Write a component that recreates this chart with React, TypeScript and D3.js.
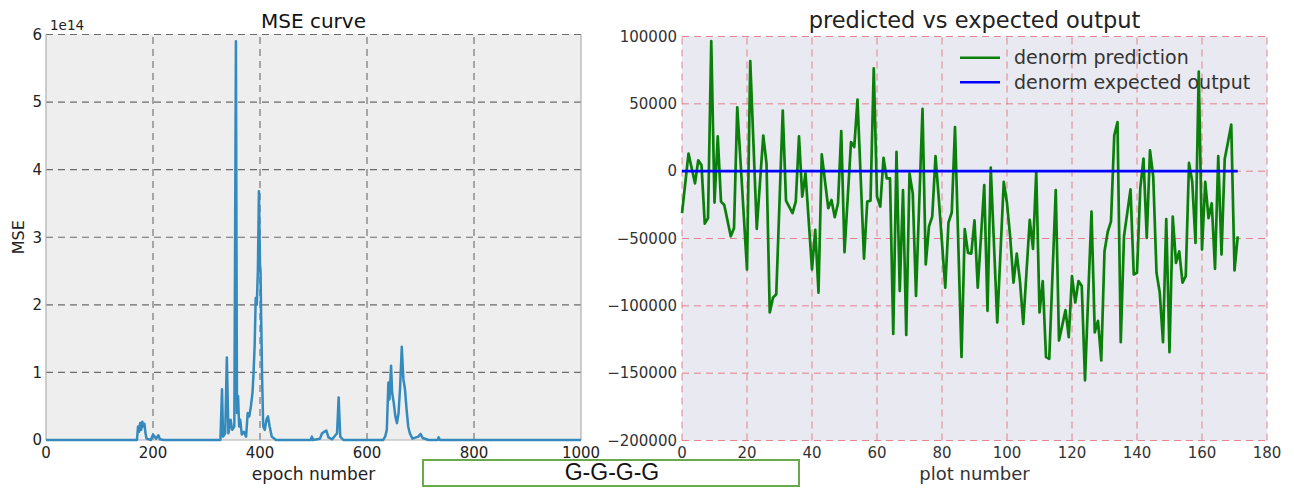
import React from "react";
import * as d3 from "d3";

const W = 1294;
const H = 491;

// Training loss: epochs where the MSE curve changes, and the MSE there (units of 1e14)
const mseEpochs = [
  0, 170, 172, 174, 176, 178, 180, 182, 184, 186, 188, 196, 200, 203, 206, 210, 213, 220,
  326, 329, 331, 335, 338, 341, 345, 348, 352, 355, 357, 359, 361, 363, 366, 370, 374,
  377, 380, 383, 386, 388, 390, 392, 394, 396, 398, 400, 401, 402, 404, 406, 409, 412,
  415, 418, 422, 430, 495, 497, 499, 512, 516, 520, 524, 528, 535, 544, 547, 550, 556,
  630, 634, 637, 640, 642, 645, 647, 650, 653, 656, 659, 662, 665, 668, 671, 674, 677,
  680, 685, 696, 700, 704, 715, 732, 734, 736, 1000,
];
const mseValues = [
  0, 0, 0.2, 0.12, 0.25, 0.15, 0.27, 0.2, 0.24, 0.1, 0.02, 0, 0.08, 0.05, 0.02, 0.07, 0.01, 0,
  0, 0.75, 0.05, 0.1, 1.22, 0.1, 0.3, 0.15, 0.2, 5.9, 0.4, 0.65, 0.2, 0.3, 0.08, 0.12, 0.05,
  0.4, 0.35, 0.5, 0.7, 1.0, 1.4, 2.1, 2.0, 2.5, 3.68, 2.6, 2.5, 1.9, 0.9, 0.2, 0.15, 0.3,
  0.35, 0.2, 0.05, 0, 0, 0.05, 0, 0.02, 0.1, 0.12, 0.14, 0.04, 0.01, 0.1, 0.63, 0.05, 0,
  0, 0.05, 0.15, 0.85, 0.6, 1.1, 0.7, 0.55, 0.35, 0.25, 0.4, 0.8, 1.38, 0.9, 0.75, 0.45, 0.2,
  0.1, 0.02, 0.05, 0.09, 0.03, 0, 0, 0.04, 0, 0,
];
const mseXTicks = [0, 200, 400, 600, 800, 1000];
const mseYTicks = [0, 1, 2, 3, 4, 5, 6];

// Denormalised network prediction for each plot number (0..171)
const prediction = [
  -31200, -9000, 13000, 2000, -9100, 8100, 4400, -39000, -34900, 96600,
  -23300, 25800, -22600, -25100, -36600, -48400, -42300, 47400, 7400, -32700,
  -73000, 81800, 19600, -42800, -8100, 26500, 5700, -104900, -93900, -91400,
  -23100, 45000, -21900, -26500, -31200, -22600, 25800, -18900, -1700, -37300,
  -73000, -43500, -90200, 12500, -7400, -27500, -21400, -34200, -23800, 29700,
  -60200, -19200, 21600, 17900, 53100, -5900, -64900, -22600, -21900, 76400,
  -18900, -26300, 9800, -5400, -5400, -120900, 14300, -88900, -14000, -121600,
  -1700, -16500, -92600, -23100, 46200, -69300, -41000, -33700, 11100, -20000,
  -53300, -86500, -38100, -30700, 32700, -53000, -138000, -43000, -60700, -61200,
  -36600, -86500, -48400, -10300, -103700, 2700, -54800, -112300, -60000, -7900,
  -23800, -49600, -82800, -61200, -82000, -113500, -74900, -36100, -57700, -500,
  -104900, -81600, -138000, -139300, -76700, -14000, -125800, -114500, -103200, -123300,
  -77900, -97500, -81600, -85300, -155300, -92000, -30000, -119700, -111100, -140500,
  -59500, -45000, -37300, 26500, 36400, -127000, -48400, -31000, -13500, -76700,
  -75400, -12800, 9300, -49600, 15500, -4200, -75400, -90200, -127000, -35600,
  -134400, -33700, -68100, -59500, -82800, -77900, 6100, -7900, -53300, 74000,
  -58200, -7900, -34900, -23800, -72500, 11100, -61900, 9300, 21600, 34600,
  -73700, -48400,
];
// Expected output: constant line across the same plot numbers
const expectedPlot = [0, 171];
const expectedValues = [0, 0];

const predXTicks = [0, 20, 40, 60, 80, 100, 120, 140, 160, 180];
const predYTicks = [100000, 50000, 0, -50000, -100000, -150000, -200000];

const legendItems = [
  { label: "denorm prediction", color: "#0a800a" },
  { label: "denorm expected output", color: "#0000ff" },
];

const FONT = "'DejaVu Sans', sans-serif";
const minus = (n: number) => (n < 0 ? "\u2212" + Math.abs(n) : String(n));

function MsePanel() {
  const x = d3.scaleLinear().domain([0, 1000]).range([46, 581]);
  const y = d3.scaleLinear().domain([0, 6]).range([440, 34.5]);
  const line = d3
    .line<number>()
    .x((_, i) => x(mseEpochs[i]))
    .y((d) => y(d));
  const [x0, x1] = x.range();
  const [y0, y1] = y.range();
  return (
    <g>
      <rect x={x0} y={y1} width={x1 - x0} height={y0 - y1} fill="#eeeeee" />
      {mseXTicks.slice(1, -1).map((t) => (
        <line key={"gx" + t} x1={x(t)} x2={x(t)} y1={y0} y2={y1} stroke="#555" strokeOpacity={0.85} strokeWidth={1.1} strokeDasharray="7,5" />
      ))}
      {mseYTicks.slice(1).map((t) => (
        <line key={"gy" + t} x1={x0} x2={x1} y1={y(t)} y2={y(t)} stroke="#555" strokeOpacity={0.85} strokeWidth={1.1} strokeDasharray="7,5" />
      ))}
      <line x1={x0} x2={x0} y1={y0} y2={y1} stroke="#b0b0b0" strokeWidth={1.2} />
      <line x1={x1} x2={x1} y1={y0} y2={y1} stroke="#b0b0b0" strokeWidth={1.2} />
      <line x1={x0} x2={x1} y1={y0} y2={y0} stroke="#b0b0b0" strokeWidth={1.2} />
      <path d={line(mseValues) || ""} fill="none" stroke="#348ABD" strokeWidth={2.5} strokeLinejoin="round" />
      {mseXTicks.map((t) => (
        <text key={"tx" + t} x={x(t)} y={457.5} textAnchor="middle" fontSize={15} fill="#222" fontFamily={FONT}>
          {t}
        </text>
      ))}
      {mseYTicks.map((t) => (
        <text key={"ty" + t} x={x0 - 4} y={y(t)} dy="0.35em" textAnchor="end" fontSize={15} fill="#222" fontFamily={FONT}>
          {t}
        </text>
      ))}
      <text x={50} y={30} fontSize={13.5} fill="#222" fontFamily={FONT}>1e14</text>
      <text x={(x0 + x1) / 2} y={28} textAnchor="middle" fontSize={20} fill="#111" fontFamily={FONT}>MSE curve</text>
      <text x={(x0 + x1) / 2} y={480} textAnchor="middle" fontSize={17} fill="#222" fontFamily={FONT}>epoch number</text>
      <text transform={`translate(24,${(y0 + y1) / 2}) rotate(-90)`} textAnchor="middle" fontSize={16} fill="#222" fontFamily={FONT}>MSE</text>
    </g>
  );
}

function PredictionPanel() {
  const x = d3.scaleLinear().domain([0, 180]).range([682, 1267]);
  const y = d3.scaleLinear().domain([-200000, 100000]).range([440.5, 36.5]);
  const predLine = d3
    .line<number>()
    .x((_, i) => x(i))
    .y((d) => y(d));
  const expLine = d3
    .line<number>()
    .x((_, i) => x(expectedPlot[i]))
    .y((d) => y(d));
  const [x0, x1] = x.range();
  const [y0, y1] = y.range();
  return (
    <g>
      <rect x={x0} y={y1} width={x1 - x0} height={y0 - y1} fill="#e9e9f1" />
      {predXTicks.map((t) => (
        <line key={"gx" + t} x1={x(t)} x2={x(t)} y1={y0} y2={y1} stroke="#e2707c" strokeOpacity={0.85} strokeWidth={1} strokeDasharray="7,5" />
      ))}
      {predYTicks.map((t) => (
        <line key={"gy" + t} x1={x0} x2={x1} y1={y(t)} y2={y(t)} stroke="#e2707c" strokeOpacity={0.85} strokeWidth={1} strokeDasharray="7,5" />
      ))}
      <path d={predLine(prediction) || ""} fill="none" stroke="#0a800a" strokeWidth={2.7} strokeLinejoin="round" />
      <path d={expLine(expectedValues) || ""} fill="none" stroke="#0000ff" strokeWidth={2.6} />
      {predXTicks.map((t) => (
        <text key={"tx" + t} x={x(t)} y={457.5} textAnchor="middle" fontSize={15} fill="#333" fontFamily={FONT}>
          {t}
        </text>
      ))}
      {predYTicks.map((t) => (
        <text key={"ty" + t} x={x0 - 5} y={y(t)} dy="0.35em" textAnchor="end" fontSize={15} fill="#333" fontFamily={FONT}>
          {minus(t)}
        </text>
      ))}
      {legendItems.map((it, i) => (
        <g key={it.label}>
          <line x1={960} x2={1000} y1={57.7 + i * 24.6} y2={57.7 + i * 24.6} stroke={it.color} strokeWidth={2.6} />
          <text x={1014} y={57.7 + i * 24.6} dy="0.35em" fontSize={19} fill="#333" fontFamily={FONT}>
            {it.label}
          </text>
        </g>
      ))}
      <text x={(x0 + x1) / 2} y={28} textAnchor="middle" fontSize={22.5} fill="#222" fontFamily={FONT}>predicted vs expected output</text>
      <text x={(x0 + x1) / 2} y={480} textAnchor="middle" fontSize={18} fill="#333" fontFamily={FONT}>plot number</text>
    </g>
  );
}

export default function App() {
  return (
    <svg
      width={W}
      height={H}
      viewBox={`0 0 ${W} ${H}`}
      style={{ position: "fixed", left: 0, top: 0, background: "#fff", display: "block" }}
    >
      <rect x={0} y={0} width={W} height={H} fill="#fff" />
      <MsePanel />
      <PredictionPanel />
      <rect x={423} y={460} width={376} height={26} fill="#fff" stroke="#6aaa4a" strokeWidth={2} />
      <text x={612} y={480} textAnchor="middle" fontSize={23} fill="#111" fontFamily="'Liberation Sans', Arial, sans-serif">G-G-G-G</text>
    </svg>
  );
}
